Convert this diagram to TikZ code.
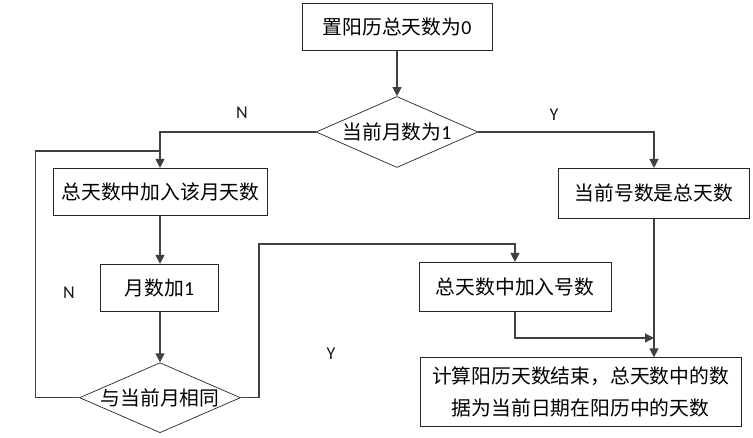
\documentclass[tikz,border=0pt]{standalone}
\usepackage{fontspec}
\setmainfont{Carlito}
\newfontfamily\cjk{Noto Sans CJK SC}
\usetikzlibrary{shapes.geometric,arrows.meta,calc}
\begin{document}
\begin{tikzpicture}[x=1pt,y=-1pt,
  box/.style={draw=black!85,line width=0.7pt,rectangle,inner sep=0pt,align=center,
    font=\fontsize{19.8}{32}\cjk},
  dia/.style={draw=black!85,line width=0.7pt,diamond,inner sep=0pt,
    font=\fontsize{19.8}{22}\cjk},
  conn/.style={draw=black!75,line width=1.3pt},
  arr/.style={conn,-{Triangle[length=9pt,width=9pt]}},
  lbl/.style={font=\fontsize{18}{20}\selectfont,text=black!90}]
\useasboundingbox (0,0) rectangle (753,438);
\node[box,minimum width=190pt,minimum height=47pt] (top) at (397,26.5) {置阳历总天数为{\rmfamily 0}};
\node[dia,minimum width=162pt,minimum height=71pt] (d1) at (397,132) {\makebox[0pt]{当前月数为{\rmfamily 1}}};
\node[box,minimum width=214pt,minimum height=47pt] (b1) at (160.5,191.7) {总天数中加入该月天数};
\node[box,minimum width=191pt,minimum height=50pt] (b2) at (653.8,193.3) {当前号数是总天数};
\node[box,minimum width=118pt,minimum height=47.5pt] (b3) at (159.5,288) {月数加{\rmfamily 1}};
\node[box,minimum width=192pt,minimum height=49.5pt] (b4) at (515,287) {总天数中加入号数};
\node[dia,minimum width=161pt,minimum height=70pt] (d2) at (160,397.7) {\makebox[0pt]{与当前月相同}};
\node[box,minimum width=321pt,minimum height=69pt] (b5) at (580.5,392.2) {计算阳历天数结束，总天数中的数\\据为当前日期在阳历中的天数};
\node[lbl] (n1) at (242,113) {N};
\node[lbl] (y1) at (554,115) {Y};
\node[lbl] (n2) at (69,293) {N};
\node[lbl] (y2) at (331,354) {Y};
\coordinate (loopj) at (160,151);
\coordinate (b2x) at (654,0);
\coordinate (b1x) at (160,0);
\coordinate (mj) at (654,338);
\draw[arr] (top.south) -- (d1.north);
\draw[arr] (d1.west) -| (b1x |- b1.north);
\draw[arr] (d1.east) -| (b2x |- b2.north);
\draw[arr] (b1x |- b1.south) -- (b1x |- b3.north);
\draw[arr] (b1x |- b3.south) -- (d2.north);
\draw[conn] (d2.west) -- ++(-44,0) |- (loopj);
\draw[arr] (d2.east) -- ++(18,0) |- ($(b4.north)+(0,-18)$) -- (b4.north);
\draw[arr] (b4.south) |- (mj);
\draw[arr] (b2x |- b2.south) -- (b2x |- b5.north);
\end{tikzpicture}
\end{document}
